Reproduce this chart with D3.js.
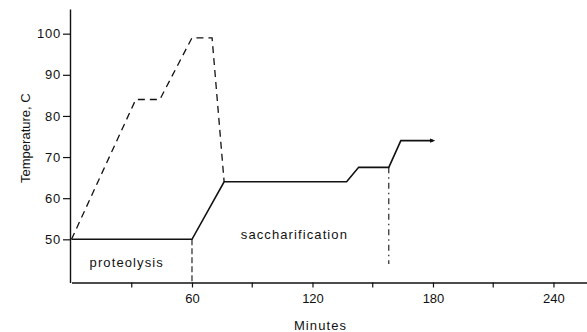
<!DOCTYPE html>
<html>
<head>
<meta charset="utf-8">
<script src="https://cdn.jsdelivr.net/npm/d3@7"></script>
<style>
  html, body { margin: 0; padding: 0; background: #fff; }
  svg { display: block; font-family: "Liberation Sans", Arial, sans-serif; }
</style>
</head>
<body>
<svg id="chart" width="587" height="332"></svg>
<script>
// Mash schedule: temperature (C) against time (minutes)
const solidMinutes = [0, 60, 76, 137, 143, 158, 164, 180];
const solidTemps   = [50, 50, 64, 64, 67.5, 67.5, 74, 74];

const dashedMinutes = [0, 32, 44, 60, 70, 76];
const dashedTemps   = [50, 84, 84, 99, 99, 64];

const yTicks = [50, 60, 70, 80, 90, 100];
const xLabelTicks = [60, 120, 180, 240];
const xMinorTicks = [30, 90, 150, 210];

// phase boundaries (minute, top temp, bottom temp)
const boundaryMinutes = [60, 158];
const boundaryTops    = [50, 67.5];
const boundaryBottoms = [39.5, 44];

const phaseLabels = ["proteolysis", "saccharification"];
const phaseMinutes = [27.5, 111];
const phaseTemps = [43.3, 50.1];

const svg = d3.select("#chart");
const x = d3.scaleLinear().domain([0, 256.7]).range([71.5, 587]);
const y = d3.scaleLinear().domain([39.5, 106]).range([282.5, 9]);

const ink = "#111";
const fontSize = 13;

// axes
const yAxis = d3.axisLeft(y).tickValues(yTicks).tickSize(7).tickPadding(2).tickSizeOuter(0);
const gy = svg.append("g").attr("transform", `translate(${x(0) - 1.5},0)`).call(yAxis);
gy.select(".domain").attr("stroke", ink).attr("stroke-width", 1.4);
gy.selectAll(".tick line").attr("stroke", ink).attr("stroke-width", 1.2);
gy.selectAll(".tick text").attr("font-size", fontSize).attr("fill", ink).attr("letter-spacing", 0.8);

const xAxis = d3.axisBottom(x).tickValues(xLabelTicks).tickSize(5).tickPadding(6).tickSizeOuter(0);
const gx = svg.append("g").attr("transform", `translate(0,${y(39.5)})`).call(xAxis);
gx.select(".domain").attr("stroke", ink).attr("stroke-width", 1.4);
gx.selectAll(".tick line").attr("stroke", ink).attr("stroke-width", 1.2);
gx.selectAll(".tick text").attr("font-size", fontSize).attr("fill", ink);
gx.selectAll(".minor").data(xMinorTicks).enter().append("line")
  .attr("x1", d => x(d)).attr("x2", d => x(d))
  .attr("y1", 0).attr("y2", 5)
  .attr("stroke", ink).attr("stroke-width", 1.2);

// axis titles
svg.append("text")
  .attr("transform", `translate(30,${y(74.6)}) rotate(-90)`)
  .attr("text-anchor", "middle")
  .attr("font-size", fontSize).attr("fill", ink)
  .text("Temperature, C");
svg.append("text")
  .attr("x", x(124)).attr("y", 330)
  .attr("text-anchor", "middle")
  .attr("font-size", fontSize).attr("fill", ink)
  .attr("letter-spacing", 1.1)
  .text("Minutes");

const line = d3.line().x(d => x(d[0])).y(d => y(d[1]));

// dashed profile
svg.append("path")
  .datum(d3.zip(dashedMinutes, dashedTemps))
  .attr("d", line)
  .attr("fill", "none").attr("stroke", ink)
  .attr("stroke-width", 1.3).attr("stroke-dasharray", "7,5");

// phase boundaries
svg.selectAll(".boundary").data(d3.range(boundaryMinutes.length)).enter().append("line")
  .attr("x1", i => x(boundaryMinutes[i])).attr("x2", i => x(boundaryMinutes[i]))
  .attr("y1", i => y(boundaryTops[i])).attr("y2", i => y(boundaryBottoms[i]))
  .attr("stroke", ink).attr("stroke-width", 1.1)
  .attr("stroke-dasharray", (d, i) => i === 0 ? "6,3" : "6,4,1.5,4");

// arrow marker
svg.append("defs").append("marker")
  .attr("id", "arrow").attr("viewBox", "0 0 10 10")
  .attr("refX", 6).attr("refY", 5)
  .attr("markerWidth", 3.5).attr("markerHeight", 3.5)
  .attr("markerUnits", "strokeWidth")
  .attr("orient", "auto")
  .append("path").attr("d", "M0,1L10,5L0,9Z").attr("fill", ink);

// solid profile
svg.append("path")
  .datum(d3.zip(solidMinutes, solidTemps))
  .attr("d", line)
  .attr("fill", "none").attr("stroke", ink)
  .attr("stroke-width", 1.6)
  .attr("marker-end", "url(#arrow)");

// phase labels
svg.selectAll(".phase").data(phaseLabels).enter().append("text")
  .attr("x", (d, i) => x(phaseMinutes[i])).attr("y", (d, i) => y(phaseTemps[i]))
  .attr("text-anchor", "middle")
  .attr("font-size", fontSize).attr("fill", ink)
  .attr("letter-spacing", 1.1)
  .text(d => d);
</script>
</body>
</html>
